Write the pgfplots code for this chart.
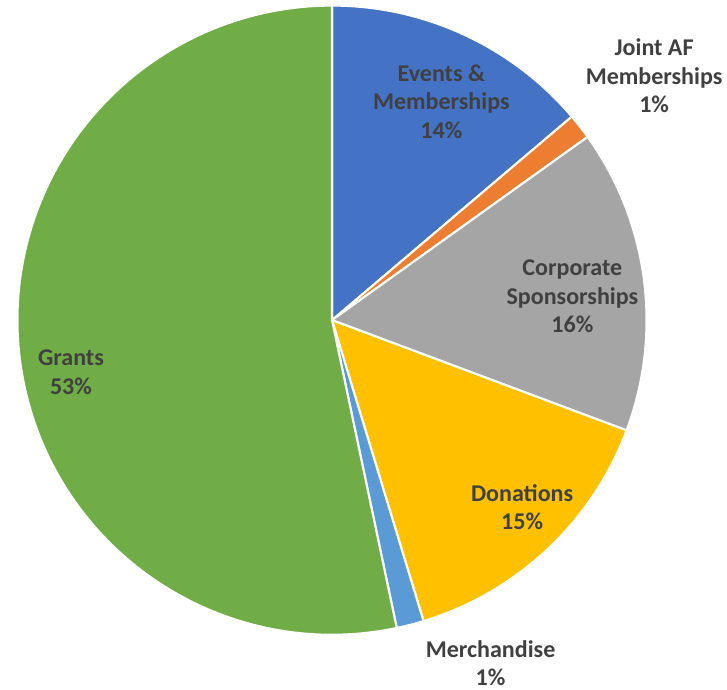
\documentclass[border=0pt]{standalone}
\usepackage{pgfplots}
\usepackage{pgfplotstable}
\pgfplotsset{compat=1.18}
\usepackage{fontspec}
\setmainfont{Carlito}

\definecolor{cEvents}{HTML}{4472C4}
\definecolor{cJoint}{HTML}{ED7D31}
\definecolor{cCorp}{HTML}{A5A5A5}
\definecolor{cDon}{HTML}{FFC000}
\definecolor{cMerch}{HTML}{5B9BD5}
\definecolor{cGrants}{HTML}{70AD47}
\definecolor{labelgray}{HTML}{404040}

% share of each slice in percent, clockwise from 12 o'clock; cx, cy = pie centre
\pgfplotstableread{
cx   cy    value  color
326  -325  13.8   cEvents
326  -325  1.3    cJoint
326  -325  15.6   cCorp
326  -325  14.6   cDon
326  -325  1.4    cMerch
326  -325  53.3   cGrants
}\slices
\pgfplotstablecreatecol[create col/expr accum={\pgfmathaccuma + \thisrow{value}}{0}]{cum}{\slices}

% label positions (pixel grid, y downwards negative)
\pgfplotstableread{
lx   ly    label
437  -103  {Events \&\\Memberships\\14\%}
653  -77   {Joint AF\\Memberships\\1\%}
570  -301  {Corporate\\Sponsorships\\16\%}
519  -515  {Donations\\15\%}
487  -673  {Merchandise\\1\%}
61   -378  {Grants\\53\%}
}\labels

\newcommand{\R}{239.5pt}

\begin{document}
\begin{tikzpicture}
\begin{axis}[
  x=0.75pt, y=0.75pt,
  xmin=0, xmax=727, ymin=-700, ymax=0,
  hide axis,
  clip=false,
  after end axis/.code={\path (rel axis cs:0,0) rectangle (rel axis cs:1,1);},
]
\addplot[
  scatter, only marks,
  mark=*, mark size=0pt,
  scatter/use mapped color={draw=none, fill=none},
  point meta=explicit symbolic,
  visualization depends on={\thisrow{cum} \as \cumval},
  visualization depends on={\thisrow{value} \as \sliceval},
  scatter/@pre marker code/.code={
    \pgfmathsetmacro\angA{90-3.6*(\cumval-\sliceval)}
    \pgfmathsetmacro\angB{90-3.6*\cumval}
    \edef\slicecolor{\pgfplotspointmeta}
    \fill[fill=\slicecolor, draw=white, line width=1.6pt, line join=round]
      (0pt,0pt) -- (\angA:\R) arc[start angle=\angA, end angle=\angB, radius=\R] -- cycle;
  },
  scatter/@post marker code/.code={},
] table[x=cx, y=cy, meta=color] {\slices};

\addplot[
  draw=none, mark=none,
  nodes near coords,
  point meta=explicit symbolic,
  nodes near coords style={anchor=center, align=center, text=labelgray,
    inner sep=0pt, font=\bfseries\fontsize{18.3}{21.6}\selectfont},
] table[x=lx, y=ly, meta=label] {\labels};
\end{axis}
\end{tikzpicture}
\end{document}
